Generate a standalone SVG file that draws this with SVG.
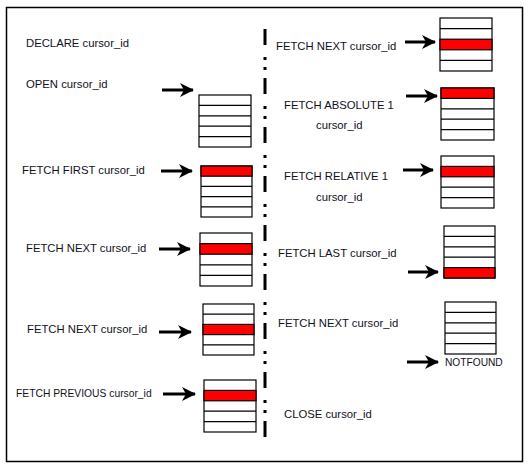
<svg xmlns="http://www.w3.org/2000/svg" width="530" height="470" viewBox="0 0 530 470">
<style>
.t{font-family:"Liberation Sans",Arial,sans-serif;font-size:11.3px;fill:#111122}
.s{font-size:10.3px}
.n{font-size:10.2px}
.tb rect{fill:#fff;stroke:#000;stroke-width:1.2}
.tb rect.r{fill:#ff0000}
.tb line{stroke:#000;stroke-width:1.2}
.ar{stroke:#000;stroke-width:3;fill:none;marker-end:url(#ah)}
</style>
<defs>
<marker id="ah" markerUnits="userSpaceOnUse" markerWidth="16" markerHeight="14" refX="13" refY="7" orient="auto" viewBox="0 0 16 14">
<path d="M0,0 L14,7 L0,14 L4,7 Z" fill="#000"/>
</marker>
</defs>
<rect x="6.5" y="7.5" width="516" height="454" fill="#fff" stroke="#000" stroke-width="1.5"/>
<line x1="265" y1="29" x2="265" y2="441" stroke="#000" stroke-width="3" stroke-dasharray="16 12 3 7 3 8"/>

<g id="labels">
<text class="t" x="26" y="47">DECLARE cursor_id</text>
<text class="t" x="26" y="88">OPEN cursor_id</text>
<text class="t" x="22" y="174">FETCH FIRST cursor_id</text>
<text class="t" x="26" y="252">FETCH NEXT cursor_id</text>
<text class="t" x="27" y="333">FETCH NEXT cursor_id</text>
<text class="t s" x="16" y="397">FETCH PREVIOUS cursor_id</text>
<text class="t" x="276" y="50">FETCH NEXT cursor_id</text>
<text class="t" x="284" y="109">FETCH ABSOLUTE 1</text>
<text class="t" x="316" y="129">cursor_id</text>
<text class="t" x="284" y="180">FETCH RELATIVE 1</text>
<text class="t" x="316" y="201">cursor_id</text>
<text class="t" x="278" y="257">FETCH LAST cursor_id</text>
<text class="t" x="278" y="327">FETCH NEXT cursor_id</text>
<text class="t" x="284" y="418">CLOSE cursor_id</text>
</g>

<g id="t1" class="tb"><rect x="199" y="95" width="52" height="52"/><line x1="199" y1="105.4" x2="251" y2="105.4"/><line x1="199" y1="115.8" x2="251" y2="115.8"/><line x1="199" y1="126.2" x2="251" y2="126.2"/><line x1="199" y1="136.6" x2="251" y2="136.6"/></g>
<g id="t2" class="tb"><rect x="201" y="166" width="51" height="51"/><rect class="r" x="201" y="166" width="51" height="10.2"/><line x1="201" y1="186.4" x2="252" y2="186.4"/><line x1="201" y1="196.6" x2="252" y2="196.6"/><line x1="201" y1="206.8" x2="252" y2="206.8"/></g>
<g id="t3" class="tb"><rect x="200" y="233" width="52" height="53"/><rect class="r" x="200" y="243.6" width="52" height="10.6"/><line x1="200" y1="264.8" x2="252" y2="264.8"/><line x1="200" y1="275.4" x2="252" y2="275.4"/></g>
<g id="t4" class="tb"><rect x="203" y="304" width="51" height="51"/><line x1="203" y1="314.2" x2="254" y2="314.2"/><rect class="r" x="203" y="324.4" width="51" height="10.2"/><line x1="203" y1="344.8" x2="254" y2="344.8"/></g>
<g id="t5" class="tb"><rect x="204" y="380" width="52" height="52"/><rect class="r" x="204" y="390.4" width="52" height="10.4"/><line x1="204" y1="411.2" x2="256" y2="411.2"/><line x1="204" y1="421.6" x2="256" y2="421.6"/></g>
<g id="t6" class="tb"><rect x="440" y="18" width="52" height="53"/><line x1="440" y1="28.6" x2="492" y2="28.6"/><rect class="r" x="440" y="39.2" width="52" height="10.6"/><line x1="440" y1="60.4" x2="492" y2="60.4"/></g>
<g id="t7" class="tb"><rect x="441" y="88" width="53" height="52"/><rect class="r" x="441" y="88" width="53" height="10.4"/><line x1="441" y1="108.8" x2="494" y2="108.8"/><line x1="441" y1="119.2" x2="494" y2="119.2"/><line x1="441" y1="129.6" x2="494" y2="129.6"/></g>
<g id="t8" class="tb"><rect x="441" y="156" width="53" height="52"/><rect class="r" x="441" y="166.4" width="53" height="10.4"/><line x1="441" y1="187.2" x2="494" y2="187.2"/><line x1="441" y1="197.6" x2="494" y2="197.6"/></g>
<g id="t9" class="tb"><rect x="444" y="226" width="51" height="52"/><line x1="444" y1="236.4" x2="495" y2="236.4"/><line x1="444" y1="246.8" x2="495" y2="246.8"/><line x1="444" y1="257.2" x2="495" y2="257.2"/><rect class="r" x="444" y="267.6" width="51" height="10.4"/></g>
<g id="t10" class="tb"><rect x="445" y="302" width="51" height="52"/><line x1="445" y1="312.4" x2="496" y2="312.4"/><line x1="445" y1="322.8" x2="496" y2="322.8"/><line x1="445" y1="333.2" x2="496" y2="333.2"/><line x1="445" y1="343.6" x2="496" y2="343.6"/></g>
<text class="t n" x="445" y="366">NOTFOUND</text>

<g id="connectors">
<line class="ar" x1="162" y1="90" x2="193" y2="90"/>
<line class="ar" x1="161" y1="171" x2="192" y2="171"/>
<line class="ar" x1="159" y1="249" x2="190" y2="249"/>
<line class="ar" x1="159" y1="332" x2="191" y2="332"/>
<line class="ar" x1="163" y1="394" x2="195" y2="394"/>
<line class="ar" x1="405" y1="42" x2="435" y2="42"/>
<line class="ar" x1="406" y1="96" x2="437" y2="96"/>
<line class="ar" x1="403" y1="170" x2="433" y2="170"/>
<line class="ar" x1="408" y1="272" x2="438" y2="272"/>
<line class="ar" x1="407" y1="362" x2="438" y2="362"/>
</g>
</svg>
